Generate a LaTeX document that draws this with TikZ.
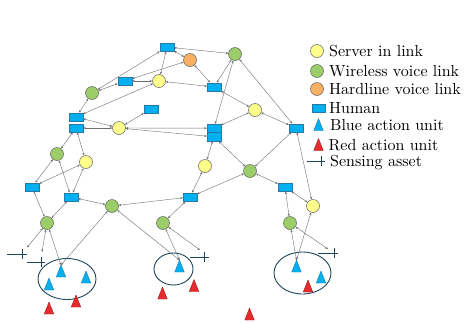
\documentclass[tikz,border=0pt]{standalone}
\usepackage{fontspec}
\newfontfamily\legfont{lmroman10-regular.otf}
\usetikzlibrary{arrows.meta}
\definecolor{srvyellow}{RGB}{255,255,140}
\definecolor{wlsgreen}{RGB}{155,205,105}
\definecolor{hdlorange}{RGB}{247,176,100}
\definecolor{humblue}{RGB}{0,176,240}
\definecolor{humborder}{RGB}{40,120,165}
\definecolor{circborder}{RGB}{95,95,95}
\definecolor{linkgray}{RGB}{110,110,110}
\definecolor{tealdark}{RGB}{30,70,90}
\definecolor{redfill}{RGB}{230,45,45}
\definecolor{redborder}{RGB}{160,25,25}
\newcommand{\mytri}[4]{%
  \coordinate (#1) at (#2,{#3-6});
  \path[#4] ({#2-4.75},{#3+6}) -- (#2,{#3-6}) -- ({#2+4.75},{#3+6}) -- cycle;}
\newcommand{\mycross}[4]{% x1 x2 y xv
  \draw[crossline] (#1,#3) -- (#2,#3) (#4,{#3-5}) -- (#4,{#3+5});}
\begin{document}
\begin{tikzpicture}[x=1pt,y=-1pt,
  circ/.style={circle, draw=circborder, line width=0.5pt, minimum size=13pt, inner sep=0pt},
  srv/.style={circ, fill=srvyellow},
  wls/.style={circ, fill=wlsgreen},
  hdl/.style={circ, fill=hdlorange},
  hum/.style={rectangle, draw=humborder, fill=humblue, line width=0.4pt, minimum width=14pt, minimum height=8.5pt, inner sep=0pt},
  lnk/.style={draw=linkgray, line width=0.4pt, {Stealth[length=2.6pt,width=2.2pt]}-{Stealth[length=2.6pt,width=2.2pt]}},
  bluetri/.style={fill=humblue, draw=humborder, line width=0.4pt, line join=round},
  redtri/.style={fill=redfill, draw=redborder, line width=0.4pt, line join=round},
  crossline/.style={draw=tealdark, line width=0.9pt},
  grp/.style={draw=tealdark, line width=0.9pt},
  legtext/.style={anchor=base west, inner sep=0pt, font=\legfont\fontsize{16}{19}\selectfont}
]
\useasboundingbox (0,0) rectangle (468,322);

% group ellipses
\draw[grp] (67,279) ellipse [x radius=29, y radius=20.5];
\draw[grp] (173.5,269) ellipse [x radius=19.5, y radius=16];
\draw[grp] (302.5,273) ellipse [x radius=28.5, y radius=21];

% nodes
\node[hum] (H1) at (167,47) {};
\node[wls] (G1) at (235,54) {};
\node[hdl] (O1) at (190,60) {};
\node[srv] (Y1) at (159,81) {};
\node[hum] (H2) at (125,81) {};
\node[wls] (G2) at (92,93) {};
\node[hum] (H3) at (214,87) {};
\node[hum] (H4) at (151,109) {};
\node[hum] (H5) at (76,117) {};
\node[hum] (H6) at (76,128) {};
\node[srv] (Y2) at (119,128) {};
\node[srv] (Y3) at (255,110) {};
\node[hum] (H7) at (214,128.2) {};
\node[hum] (H8) at (214,136.8) {};
\node[hum] (H9) at (296,128) {};
\node[wls] (G3) at (57,154) {};
\node[srv] (Y4) at (86,162) {};
\node[srv] (Y5) at (205,166) {};
\node[wls] (G4) at (250,171) {};
\node[hum] (H10) at (32,187) {};
\node[hum] (H11) at (71,197) {};
\node[hum] (H12) at (190,197) {};
\node[hum] (H13) at (285,187) {};
\node[wls] (G5) at (112,206) {};
\node[wls] (G6) at (47,223) {};
\node[wls] (G7) at (163,223) {};
\node[wls] (G8) at (290,223) {};
\node[srv] (Y6) at (313,206) {};

% triangles
\mytri{B1}{61}{271}{bluetri}
\mytri{B2}{49}{284}{bluetri}
\mytri{B3}{86}{277}{bluetri}
\mytri{B4}{179.5}{266}{bluetri}
\mytri{B5}{296.5}{266}{bluetri}
\mytri{B6}{321}{277}{bluetri}
\mytri{R1}{49}{308}{redtri}
\mytri{R2}{76}{301}{redtri}
\mytri{R3}{162.5}{293}{redtri}
\mytri{R4}{194}{285.5}{redtri}
\mytri{R5}{249.5}{314}{redtri}
\mytri{R6}{308}{286}{redtri}

% sensing assets
\mycross{7}{27}{254}{22}
\mycross{27}{45}{262}{41}
\mycross{190}{209}{257}{204}
\mycross{318}{338}{253}{334}
\coordinate (S1) at (27,247.5);
\coordinate (S2) at (42,252);
\coordinate (S3) at (200,250);
\coordinate (S4) at (328,249);

% links
\foreach \a/\b in {H1/G2, H1/Y1, H1/O1, H1/G1,
  H2/G2, H2/Y1, H2/O1, G2/H5, Y1/H5, Y1/H3, O1/H3,
  G1/H3, G1/H7, G1/H9, H3/Y3, Y3/H7, Y3/H9,
  H4/Y2, H5/Y2, H6/Y2, Y2/H7, Y2/H8,
  H6/G3, H6/Y4, G3/H10, G3/H11, Y4/H10, Y4/H11,
  H10/G6, H11/G6, H11/G5,
  H8/Y5, H8/G4, H9/G4, H9/Y6,
  Y5/H12, G4/H12, G4/H13, H12/G5, H12/G7,
  H13/Y6, H13/G8,
  G5/B1, G5/B4, G6/B1, G6/S1, G6/S2,
  G7/B4, G7/S3, G8/B5, G8/S4, Y6/B5}
  \draw[lnk] (\a) -- (\b);

% legend
\node[srv] (LY) at (317,51) {};
\node[legtext] (LYt) at (329,56.5) {Server in link};
\node[wls] (LG) at (317,71) {};
\node[legtext] (LGt) at (329,76.5) {Wireless voice link};
\node[hdl] (LO) at (317,89) {};
\node[legtext] (LOt) at (329,94.5) {Hardline voice link};
\node[hum, minimum width=13pt, minimum height=8pt] (LH) at (318.5,108) {};
\node[legtext] (LHt) at (329,113.3) {Human};
\mytri{LB}{318.5}{124.5}{bluetri}
\node[legtext] (LBt) at (330,130) {Blue action unit};
\mytri{LR}{318.5}{144.5}{redtri}
\node[legtext] (LRt) at (328.5,150.7) {Red action unit};
\mycross{307}{325}{161}{321}
\node[legtext] (LSt) at (330,166.5) {Sensing asset};
\end{tikzpicture}
\end{document}
